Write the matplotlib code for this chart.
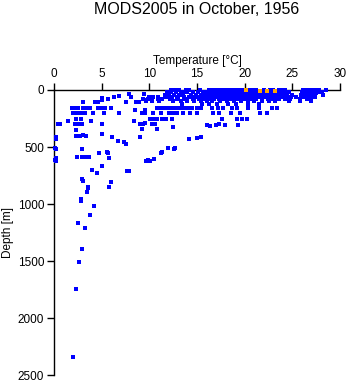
import matplotlib
matplotlib.use("Agg")
import matplotlib.pyplot as plt

plt.rcParams['font.family'] = ['Liberation Sans', 'DejaVu Sans']

title = "MODS2005 in October, 1956"
xlabel = "Temperature [°C]"
ylabel = "Depth [m]"
xticks = [0, 5, 10, 15, 20, 25, 30]
yticks = [0, 500, 1000, 1500, 2000, 2500]

# ---- blue profile points: temperature (°C) and depth (m), row by row ----
t_d3 = [12.3, 12.7, 13.1, 13.8, 14.2, 15.3, 16.3, 16.6, 16.9, 17.3, 17.6, 17.9, 18.2, 18.6, 19.0,
        19.3, 19.7, 20.5, 20.9, 21.2, 22.0, 22.7, 23.0, 23.6, 23.9, 24.2, 26.1, 26.4, 26.8, 27.1,
        27.5, 27.8, 28.5]
t_d20 = [11.9, 12.3, 12.8, 13.3, 13.7, 14.0, 14.6, 15.1, 15.6, 16.0, 16.3, 16.6, 16.9, 17.2, 17.5,
         17.8, 18.1, 18.4, 18.7, 19.0, 19.3, 19.6, 19.9, 20.2, 20.6, 20.9, 21.3, 21.7, 22.1, 22.5,
         22.9, 23.3, 23.7, 24.1, 24.6, 26.0, 26.3, 26.7, 27.0, 27.3, 27.7, 28.1]
t_d30 = [16.1, 16.5, 16.9, 17.3, 17.7, 18.1, 18.5, 18.9, 19.3, 19.7, 20.1, 20.5, 20.9, 21.3, 21.7,
         22.1, 22.5, 22.9, 23.3, 23.7, 24.2, 26.2, 26.6, 27.0, 27.5]
t_d40 = [11.6, 12.1, 12.6, 13.1, 13.5, 14.4, 14.9, 15.4, 15.8, 16.2, 16.5, 16.8, 17.1, 17.4, 17.7,
         18.0, 18.3, 18.6, 18.9, 19.2, 19.5, 19.8, 20.1, 20.4, 20.8, 21.1, 21.5, 21.9, 22.3, 22.7,
         23.1, 23.5, 23.9, 24.4, 25.0, 25.9, 26.2, 26.6, 26.9, 27.3, 28.2]
t_d50 = [16.0, 16.4, 16.8, 17.2, 17.6, 18.0, 18.4, 18.8, 19.2, 19.6, 20.0, 20.4, 20.8, 21.2, 21.6,
         22.0, 22.4, 22.8, 23.2, 23.6, 24.0, 26.1, 26.7, 27.2]
t_d60 = [10.0, 10.4, 10.9, 11.8, 12.4, 13.0, 13.6, 14.2, 14.8, 15.3, 15.8, 16.3, 16.7, 17.1, 17.5,
         17.9, 18.3, 18.7, 19.1, 19.5, 19.9, 20.3, 20.7, 21.1, 21.6, 22.0, 22.5, 23.0, 23.4, 23.9,
         24.4, 24.9, 25.4, 26.0, 26.4, 26.9, 27.4]
t_d80 = [9.3, 10.2, 11.3, 12.2, 12.9, 13.7, 14.6, 15.2, 15.7, 16.2, 16.8, 17.3, 17.8, 18.2, 18.7,
         19.2, 19.7, 20.1, 20.6, 21.2, 21.8, 22.4, 23.0, 23.6, 24.2, 24.8, 25.8, 26.5, 27.0]
t_d100 = [9.6, 10.3, 11.0, 12.5, 13.3, 14.0, 14.7, 15.4, 16.0, 16.6, 17.4, 18.1, 18.9, 19.6, 20.3,
          21.0, 21.8, 22.5, 23.2, 24.6, 25.8, 27.0]
t_d125 = [13.4, 15.5, 16.3, 17.1, 18.3, 19.1, 20.3, 21.5]
t_d155 = [1.9, 2.2, 2.5, 3.05, 3.4, 3.75, 4.6, 5.0, 5.3, 6.0, 10.8, 11.1, 11.4, 11.7, 12.0, 12.3,
          12.6, 12.9, 13.2, 13.6, 14.1, 14.5, 15.0, 15.4, 16.6, 17.2, 17.7, 18.7, 19.2, 20.4, 21.5,
          22.9, 23.4]
t_d204 = [2.0, 2.3, 2.6, 2.9, 3.2, 4.1, 5.2, 6.8, 9.2, 9.55, 10.4, 11.2, 12.1, 12.4, 12.7, 12.9,
          13.5, 14.3, 15.0, 16.7, 17.3, 18.6, 19.5, 21.6, 22.3]
t_d250 = [2.35, 2.8, 10.1, 10.4, 10.8, 11.3, 11.65, 11.8, 12.35, 17.6, 19.2, 19.7, 20.2]

# scattered points (temperature, depth) in the upper water column and below
t_scatter = [5.05, 6.3, 6.8, 7.9, 8.1, 9.4, 9.65, 9.65, 3.0, 4.3, 4.6, 5.05, 5.7, 7.6, 8.6, 8.9,
             8.5, 9.55, 3.9, 1.47, 8.4, 9.55, 9.3, 0.6, 0.4, 2.25, 2.55, 2.9, 5.05, 2.3, 2.35,
             2.7, 3.0, 3.4, 5.0, 6.1, 6.67, 7.35, 7.5, 9.0, 0.25, 0.25, 0.15, 0.2, 2.9, 5.6,
             5.65, 4.7, 0.2, 0.15, 0.2, 2.4, 2.9, 3.3, 3.7, 5.8, 5.0, 4.0, 4.55, 7.7, 7.9, 9.7,
             9.9, 2.95, 3.0, 3.55, 3.6, 3.5, 5.97, 5.8, 2.85, 2.8, 4.2, 3.75, 2.5, 3.3, 2.95,
             2.6, 2.35, 2.0,
             9.0, 10.25, 10.6, 12.5, 16.0, 16.4, 17.0, 17.3, 17.9, 19.3, 9.2, 10.8, 9.0, 14.2,
             15.0, 15.4, 12.0, 12.6, 12.7, 11.3, 11.2, 10.1, 10.5, 9.9, 10.3, 10.9]
d_scatter = [67, 58, 52, 38, 58, 38, 87, 100, 108, 102, 102, 85, 82, 108, 102, 102,
             172, 172, 272, 271, 271, 291, 300, 300, 300, 300, 300, 300, 300, 350, 400,
             400, 398, 400, 388, 413, 443, 457, 475, 413, 410, 425, 505, 520, 515, 540,
             555, 553, 600, 615, 625, 583, 583, 588, 588, 597, 664, 705, 728, 714, 708, 620,
             610, 780, 795, 848, 862, 894, 807, 850, 955, 975, 1020, 1093, 1166, 1209, 1393,
             1506, 1742, 2337,
             297, 297, 300, 320, 306, 312, 303, 300, 306, 306, 344, 341, 408, 431,
             420, 415, 512, 520, 510, 539, 548, 620, 603, 75, 85, 79]

blue_rows = [(t_d3, 3), (t_d20, 20), (t_d30, 30), (t_d40, 40), (t_d50, 50), (t_d60, 60),
             (t_d80, 80), (t_d100, 100), (t_d125, 125), (t_d155, 155), (t_d204, 204),
             (t_d250, 250)]

# ---- orange (highlighted) points ----
orange_temp = [20.1, 21.6, 22.3, 23.2]
orange_depth = [3, 8, 5, 8]

blue_t, blue_d = [], []
for temps, depth in blue_rows:
    blue_t += temps
    blue_d += [depth] * len(temps)
blue_t += t_scatter
blue_d += d_scatter

fig = plt.figure(figsize=(3.48, 3.84), dpi=100)
ax = fig.add_axes([54 / 348, 1 - 375.3 / 384, 286 / 348, 285.3 / 384])

ax.scatter(blue_t, blue_d, marker='s', s=5, color='#0000FF', linewidths=0, zorder=3, clip_on=False)
ax.scatter(orange_temp, orange_depth, marker='s', s=6, color='#FFA500', linewidths=0, zorder=4,
           clip_on=False)

ax.set_xlim(0, 30)
ax.set_ylim(2500, 0)
ax.set_xticks(xticks)
ax.set_yticks(yticks)
ax.xaxis.tick_top()
ax.xaxis.set_label_position('top')
for s in ['right', 'bottom']:
    ax.spines[s].set_visible(False)
for s in ['left', 'top']:
    ax.spines[s].set_linewidth(1.0)
ax.tick_params(axis='both', direction='out', length=5, width=1.0, labelsize=8.5, pad=2)
ax.set_xlabel(xlabel, fontsize=8.5, labelpad=3)
ax.set_ylabel(ylabel, fontsize=8.5, labelpad=3)

fig.text(197 / 348, 1 - 10 / 384, title, ha='center', va='center', fontsize=11.5)

fig.savefig("out.png", dpi=100)
